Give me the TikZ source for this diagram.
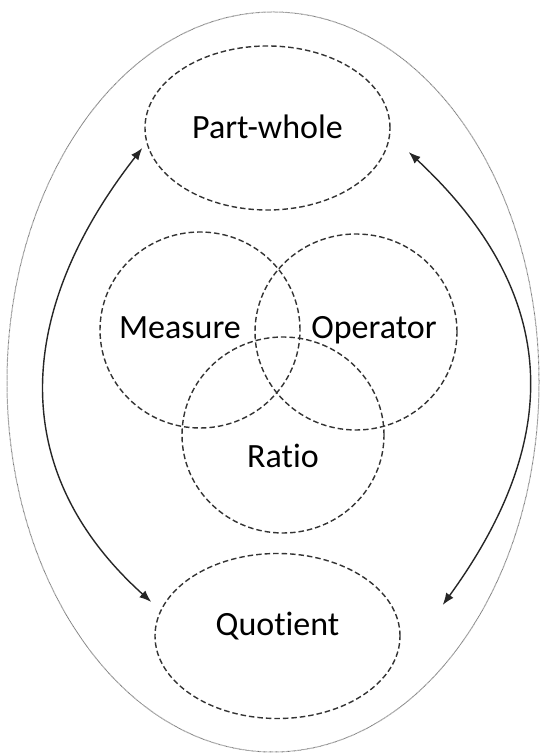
\documentclass[tikz,border=0pt]{standalone}
\usepackage{fontspec}
\setmainfont{Carlito}[Ligatures=NoCommon]
\usetikzlibrary{shapes.geometric,arrows.meta}

\begin{document}
\begin{tikzpicture}[x=1pt,y=1pt,font=\fontsize{34}{40}\selectfont,text height=22pt,text depth=0pt,
  frac/.style={ellipse,draw=black!80,line width=1.4pt,dash pattern=on 5.5pt off 3pt,inner sep=0pt},
  link/.style={{Latex[length=12pt,width=9pt]}-{Latex[length=12pt,width=9pt]},line width=1.4pt,black!85}]
\useasboundingbox (0,0) rectangle (543,754);
\draw[black!55,line width=1pt,dash pattern=on .6pt off .6pt] (273,372) ellipse (266 and 370);
\node[frac,minimum width=245,minimum height=164] (pw) at (267.5,626) {Part-whole};
\node[frac,minimum width=245,minimum height=165,label={[yshift=11pt]center:Quotient}] (qu) at (277.5,118) {};
\node[frac,minimum width=200,minimum height=196,label={[xshift=-20pt,yshift=2pt]center:Measure}] (meas) at (200,424) {};
\node[frac,minimum width=202,minimum height=196,label={[xshift=18pt,yshift=4pt]center:Operator}] (oper) at (356,422) {};
\node[frac,minimum width=202,minimum height=196,label={[yshift=-22pt]center:Ratio}] (ratio) at (283,319) {};
\draw[link] ([shift={(-2,-20)}]pw.west) to[out=232,in=138,looseness=1.13] ([shift={(-3,34)}]qu.west);
\draw[link] ([shift={(18,-24)}]pw.east) to[out=317,in=54,looseness=1.17] ([shift={(42,31)}]qu.east);
\end{tikzpicture}
\end{document}
